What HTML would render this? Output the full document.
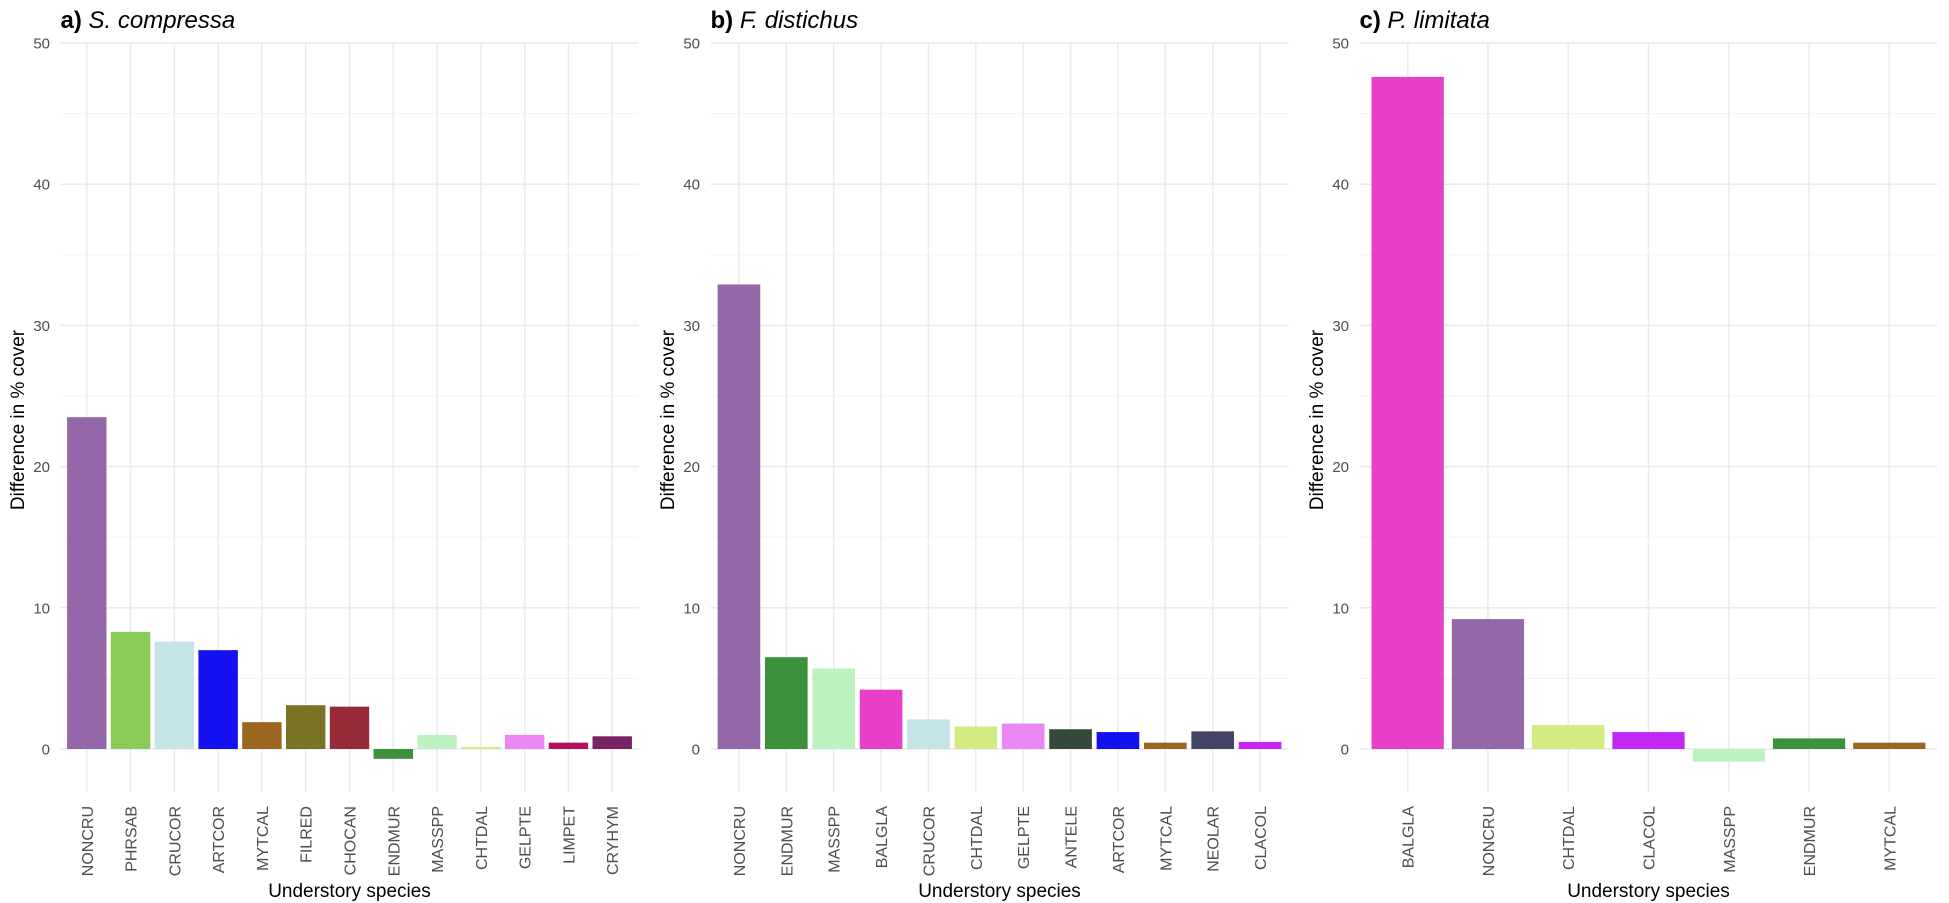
<!DOCTYPE html>
<html><head><meta charset="utf-8"><style>
html,body{margin:0;padding:0;background:#fff;}
svg{display:block;font-family:"Liberation Sans",sans-serif;}
</style></head><body>
<svg id="chart" width="1949" height="903" viewBox="0 0 1949 903" xmlns="http://www.w3.org/2000/svg"></svg>
<script>
const catsA = ["NONCRU","PHRSAB","CRUCOR","ARTCOR","MYTCAL","FILRED","CHOCAN","ENDMUR","MASSPP","CHTDAL","GELPTE","LIMPET","CRYHYM"];
const valsA = [23.5,8.3,7.6,7.0,1.9,3.1,3.0,-0.7,1.0,0.15,1.0,0.45,0.9];
const catsB = ["NONCRU","ENDMUR","MASSPP","BALGLA","CRUCOR","CHTDAL","GELPTE","ANTELE","ARTCOR","MYTCAL","NEOLAR","CLACOL"];
const valsB = [32.9,6.5,5.7,4.2,2.1,1.6,1.8,1.4,1.2,0.45,1.25,0.5];
const catsC = ["BALGLA","NONCRU","CHTDAL","CLACOL","MASSPP","ENDMUR","MYTCAL"];
const valsC = [47.6,9.2,1.7,1.2,-0.9,0.75,0.45];
const yTicks = [0,10,20,30,40,50];
const yMinor = [5,15,25,35,45];
const titles = [["a)","S. compressa"],["b)","F. distichus"],["c)","P. limitata"]];
const colors = {NONCRU:"#9467a9",PHRSAB:"#88cb55",CRUCOR:"#c5e4e8",ARTCOR:"#1411f0",MYTCAL:"#9b661e",FILRED:"#7a7325",CHOCAN:"#962a39",ENDMUR:"#3c913a",MASSPP:"#bdf3c1",CHTDAL:"#d2ec82",GELPTE:"#e988f5",LIMPET:"#b0125f",CRYHYM:"#7a2364",BALGLA:"#e83fc8",ANTELE:"#364a3b",NEOLAR:"#444464",CLACOL:"#c427f4"};

const svg = document.getElementById('chart');
const NS = "http://www.w3.org/2000/svg";
function mk(tag, attrs, parent){const e=document.createElementNS(NS,tag);for(const k in attrs)e.setAttribute(k,attrs[k]);parent.appendChild(e);return e;}
const y = v => 749 - v*14.12;
const panels = [[catsA,valsA,0],[catsB,valsB,650],[catsC,valsC,1299]];
panels.forEach(([cats,vals,off],pi)=>{
  const g = mk('g',{},svg);
  
  
  const L = off+60.5, R = off+638.5;
  const step = (R-L)/(cats.length+0.2);
  const x = i => L + step*(0.6+i);
  yMinor.forEach(t=>{const l=mk('line',{x1:L,x2:R,y1:y(t),y2:y(t),stroke:"#f3f3f6","stroke-width":1},g);
    });
  yTicks.forEach(t=>{const l=mk('line',{x1:L,x2:R,y1:y(t),y2:y(t),stroke:"#ebebf0","stroke-width":1.5},g);
    
    const tx=mk('text',{x:off+50,y:y(t)+5.5,"text-anchor":"end","font-size":15,fill:"#4d4d4d"},g);tx.textContent=t;
    });
  cats.forEach((c,i)=>{const l=mk('line',{x1:x(i),x2:x(i),y1:43,y2:792,stroke:"#ebebf0","stroke-width":1.5},g);
    });
  cats.forEach((c,i)=>{
    const v=vals[i], bw=step*0.9;
    const r=mk('rect',{x:x(i)-bw/2,y:Math.min(y(v),y(0)),width:bw,height:Math.abs(y(v)-y(0)),fill:colors[c]},g);
    
    
    const tx=mk('text',{x:0,y:0,"text-anchor":"end","font-size":16,fill:"#4d4d4d",transform:`translate(${x(i)+6},806) rotate(-90)`},g);
    tx.textContent=c;
    
    
  });
  const yt=mk('text',{x:0,y:0,"text-anchor":"middle","font-size":19,fill:"#000",transform:`translate(${off+24},420) rotate(-90)`},g);
  yt.textContent="Difference in % cover";
  
  
  const xt=mk('text',{x:(L+R)/2,y:897,"text-anchor":"middle","font-size":19,fill:"#000"},g);
  xt.textContent="Understory species";
  
  
  const tt=mk('text',{x:L,y:28,"font-size":24,fill:"#000"},g);
  
  
  const b=mk('tspan',{"font-weight":"bold"},tt);b.textContent=titles[pi][0]+" ";
  const it=mk('tspan',{"font-style":"italic"},tt);it.textContent=titles[pi][1];
});
</script>
</body></html>
